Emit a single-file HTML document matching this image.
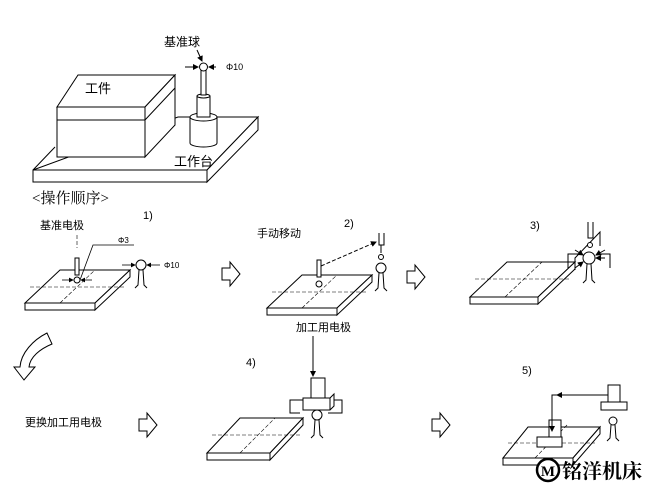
<!DOCTYPE html>
<html><head><meta charset="utf-8"><style>
body{margin:0;background:#fff;}
svg{display:block;}
text{font-family:"Liberation Sans","Noto Sans CJK SC",sans-serif;fill:#000;}
</style></head><body>
<svg width="650" height="494" viewBox="0 0 650 494" xmlns="http://www.w3.org/2000/svg">
<defs>
<marker id="ah" markerWidth="6" markerHeight="6" refX="5" refY="3" orient="auto"><path d="M0,0 L6,3 L0,6 z" fill="#000"/></marker>
</defs>
<g stroke="#000" stroke-width="1" fill="#fff">
<path d="M33,170 L55,147 M178,117 L258,117 L207,170 L33,170 Z"/>
<rect x="33" y="170" width="174" height="12"/>
<path d="M207,170 L258,117 L258,130 L207,182 Z"/>
<path d="M57,107 L78,75 L175,75 L145,107 Z"/>
<rect x="57" y="107" width="88" height="50"/>
<path d="M145,107 L175,75 L175,125 L145,157 Z"/>
<path d="M57,120 L145,120 L175,88" fill="none"/>
<path d="M190,117 L190,143 A13.5,4 0 0 0 217,143 L217,117"/>
<ellipse cx="203.5" cy="117" rx="13.5" ry="4"/>
<rect x="197" y="96" width="13" height="21"/>
<ellipse cx="203.5" cy="96" rx="6.5" ry="2"/>
<rect x="201" y="70" width="5" height="25"/>
<circle cx="203.5" cy="67" r="4"/>
</g>
<g stroke="#000" stroke-width="1" fill="none">
<line x1="185" y1="67" x2="198" y2="67" marker-end="url(#ah)"/>
<line x1="216" y1="67" x2="209" y2="67" marker-end="url(#ah)"/>
<line x1="197" y1="50" x2="202" y2="61" marker-end="url(#ah)"/>
</g>
<text x="164" y="46" font-size="12">基准球</text>
<text x="226" y="70" font-size="9">Φ10</text>
<text x="85" y="93" font-size="13">工件</text>
<text x="174" y="166" font-size="13">工作台</text>
<text x="32" y="203" font-size="15" style="font-family:'Liberation Serif','Noto Serif CJK SC',serif">&lt;操作顺序&gt;</text>

<text x="40" y="229" font-size="11">基准电极</text>
<text x="143" y="219" font-size="11">1)</text>
<g stroke="#000" stroke-width="1" fill="#fff">
<path d="M25,303 L60,270 L130,270 L95,303 Z"/>
<rect x="25" y="303" width="70" height="7"/>
<path d="M95,303 L130,270 L130,277 L95,310 Z"/>
</g>
<g stroke="#000" stroke-width="0.6" fill="none" stroke-dasharray="4,2">
<line x1="30" y1="287" x2="125" y2="287"/><line x1="60" y1="303" x2="95" y2="270"/>
<line x1="77" y1="235" x2="77" y2="248"/>
</g>
<g stroke="#000" stroke-width="1" fill="#fff">
<rect x="75" y="258" width="4" height="17"/><circle cx="77" cy="280" r="3"/>
<circle cx="141" cy="265" r="5"/>
<path d="M139,270 L138,285 L135,288 M143,270 L144,285 L147,288" fill="none"/>
</g>
<g stroke="#000" stroke-width="0.8" fill="none">
<polyline points="80,280 93,245 134,245"/>
<line x1="62" y1="280" x2="73" y2="280" marker-end="url(#ah)"/>
<line x1="92" y1="280" x2="81" y2="280" marker-end="url(#ah)"/>
<line x1="122" y1="265" x2="135" y2="265" marker-end="url(#ah)"/>
<line x1="160" y1="265" x2="147" y2="265" marker-end="url(#ah)"/>
</g>
<text x="118" y="243" font-size="8">Φ3</text>
<text x="164" y="268" font-size="8">Φ10</text>

<g stroke="#000" stroke-width="1" fill="#fff">
<path d="M222,268 L230,268 L230,262 L240,274 L230,286 L230,280 L222,280 Z"/>
<path d="M407,271 L415,271 L415,265 L425,277 L415,289 L415,283 L407,283 Z"/>
<path d="M139,419 L147,419 L147,413 L157,425 L147,437 L147,431 L139,431 Z"/>
<path d="M432,419 L440,419 L440,413 L450,425 L440,437 L440,431 L432,431 Z"/>
<path d="M47,333 C33,340 21,353 20,367 L14,367 L24,380 L35,367 L29,367 C30,357 40,349 52,344 Z"/>
</g>

<text x="257" y="237" font-size="11">手动移动</text>
<text x="344" y="227" font-size="11">2)</text>
<g stroke="#000" stroke-width="1" fill="#fff">
<path d="M267,308 L302,275 L372,275 L337,308 Z"/>
<rect x="267" y="308" width="70" height="7"/>
<path d="M337,308 L372,275 L372,282 L337,315 Z"/>
</g>
<g stroke="#000" stroke-width="0.6" fill="none" stroke-dasharray="4,2">
<line x1="272" y1="292" x2="367" y2="292"/><line x1="302" y1="308" x2="337" y2="275"/>
<line x1="321" y1="266" x2="376" y2="242" stroke-width="1" marker-end="url(#ah)"/>
</g>
<g stroke="#000" stroke-width="1" fill="#fff">
<rect x="317" y="260" width="4" height="17"/><circle cx="319" cy="284" r="3"/>
<path d="M379,233 L379,245 L384,245 L384,233" fill="none"/>
<line x1="381" y1="245" x2="381" y2="253"/>
<circle cx="381" cy="257" r="2.5"/>
<circle cx="381" cy="268" r="5"/>
<path d="M379,273 L378,288 L375,291 M383,273 L384,288 L387,291" fill="none"/>
</g>

<text x="530" y="229" font-size="11">3)</text>
<g stroke="#000" stroke-width="1" fill="#fff">
<path d="M470,297 L507,262 L575,262 L538,297 Z"/>
<rect x="470" y="297" width="68" height="7"/>
<path d="M538,297 L575,262 L575,269 L538,304 Z"/>
</g>
<g stroke="#000" stroke-width="0.6" fill="none" stroke-dasharray="4,2">
<line x1="475" y1="279" x2="570" y2="279"/><line x1="505" y1="297" x2="542" y2="262"/>
</g>
<g stroke="#000" stroke-width="1" fill="#fff">
<polyline points="568,268 568,254 578,254" fill="none"/>
<polyline points="610,268 610,254 600,254" fill="none"/>
<path d="M575,270 L575,258 L600,232 L600,246" fill="none"/>
<path d="M588,222 L588,238 L593,238 L593,222" fill="none"/>
<circle cx="590" cy="245" r="2.5"/>
<circle cx="589" cy="258" r="6"/>
<path d="M587,264 L586,280 L583,283 M591,264 L592,280 L595,283" fill="none"/>
</g>
<g stroke="#000" stroke-width="1" fill="none">
<line x1="575" y1="250" x2="583" y2="255" marker-end="url(#ah)"/>
<line x1="605" y1="250" x2="596" y2="255" marker-end="url(#ah)"/>
<line x1="575" y1="268" x2="583" y2="262" marker-end="url(#ah)"/>
<line x1="605" y1="258" x2="596" y2="258" marker-end="url(#ah)"/>
</g>

<text x="25" y="426" font-size="11">更换加工用电极</text>
<text x="246" y="366" font-size="11">4)</text>
<text x="296" y="331" font-size="11">加工用电极</text>
<line x1="313" y1="336" x2="313" y2="376" stroke="#000" marker-end="url(#ah)"/>
<g stroke="#000" stroke-width="1" fill="#fff">
<path d="M207,453 L240,418 L303,418 L270,453 Z"/>
<rect x="207" y="453" width="63" height="7"/>
<path d="M270,453 L303,418 L303,425 L270,460 Z"/>
<polyline points="300,413 290,413 290,400 306,400" fill="none"/>
<polyline points="330,400 342,400 342,413 328,413" fill="none"/>
<rect x="311" y="378" width="14" height="20"/>
<path d="M303,398 L330,398 L334,394 L334,406 L330,410 L303,410 Z"/>
<line x1="330" y1="398" x2="330" y2="410"/>
<circle cx="317" cy="415" r="5"/>
<path d="M315,420 L314,435 L311,438 M319,420 L320,435 L323,438" fill="none"/>
</g>
<g stroke="#000" stroke-width="0.6" fill="none" stroke-dasharray="4,2">
<line x1="212" y1="435" x2="300" y2="435"/><line x1="240" y1="453" x2="275" y2="418"/>
</g>

<text x="522" y="374" font-size="11">5)</text>
<g stroke="#000" stroke-width="1" fill="#fff">
<path d="M503,458 L528,427 L600,427 L573,458 Z"/>
<rect x="503" y="458" width="70" height="7"/>
<path d="M573,458 L600,427 L600,434 L573,465 Z"/>
</g>
<g stroke="#000" stroke-width="0.6" fill="none" stroke-dasharray="4,2">
<line x1="508" y1="443" x2="595" y2="443"/><line x1="535" y1="458" x2="568" y2="424"/>
</g>
<g stroke="#000" stroke-width="1" fill="#fff">
<rect x="549" y="420" width="12" height="20"/>
<path d="M537,437 L562,437 L562,447 L537,447 Z"/>
<rect x="608" y="385" width="12" height="18"/>
<path d="M601,402 L627,402 L627,410 L601,410 Z"/>
<circle cx="613" cy="421" r="4"/>
<path d="M611,425 L610,438 L607,441 M615,425 L616,438 L619,441" fill="none"/>
</g>
<polyline points="608,395 552,395 552,431" stroke="#000" fill="none" marker-end="url(#ah)"/>
<line x1="608" y1="395" x2="557" y2="395" stroke="#000" marker-end="url(#ah)"/>

<circle cx="548" cy="470" r="11" fill="#fff" stroke="#000" stroke-width="2.5"/>
<text x="548" y="476" font-size="15" font-weight="bold" text-anchor="middle" style="font-family:'Liberation Serif',serif">M</text>
<text x="562" y="478" font-size="20" font-weight="bold" style="font-family:'Liberation Sans','Noto Serif CJK SC',serif">铭洋机床</text>
</svg>
</body></html>
